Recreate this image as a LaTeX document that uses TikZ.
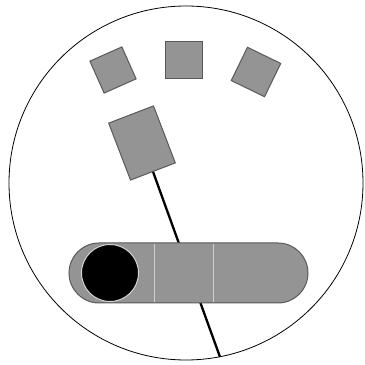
\documentclass[tikz,border=0pt]{standalone}
\usepackage{xcolor}
\usepackage{tikz}
\definecolor{tilegray}{gray}{0.58}
\definecolor{tileedge}{gray}{0.35}
\begin{document}
\begin{tikzpicture}[x=1pt,y=1pt,
  tile/.style={draw=tileedge,fill=tilegray,line width=1pt,inner sep=0pt}]
\useasboundingbox (0,0) rectangle (365,365);
\draw[line width=0.8pt] (186,182) circle (177);
% three small tiles on top
\node[tile,minimum size=35,rotate=24] (sqL) at (113,295) {};
\node[tile,minimum size=37] (sqM) at (184,305) {};
\node[tile,minimum size=37,rotate=-26] (sqR) at (256,293) {};
% the larger tile with its stick
\node[tile,minimum width=48,minimum height=61,rotate=21] (big) at (142,222) {};
\coordinate (tip) at (220,8);
\draw[line width=2.3pt] (big.south) -- (tip);
% slider bar
\node[tile,minimum width=239,minimum height=60,rounded corners=30] (bar) at (188.5,92) {};
\draw[white!55!tilegray,line width=0.8pt] (154,63) -- (154,121) (213,63) -- (213,121);
\node[circle,fill=black,draw=white!60!tilegray,line width=1pt,minimum size=57,inner sep=0pt] (knob) at (110,92) {};
\end{tikzpicture}
\end{document}
